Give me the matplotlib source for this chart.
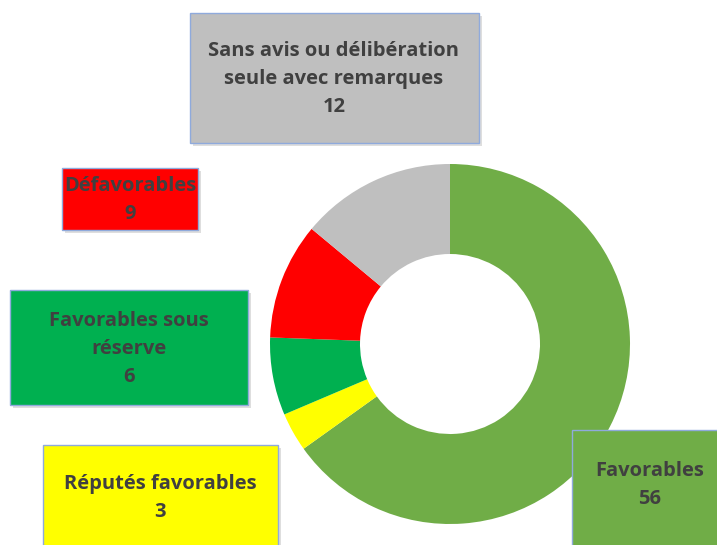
import matplotlib.pyplot as plt
from matplotlib.patches import Rectangle

labels = ["Favorables", "Réputés favorables", "Favorables sous\nréserve", "Défavorables",
          "Sans avis ou délibération\nseule avec remarques"]
values = [56, 3, 6, 9, 12]
colors = ["#70AD47", "#FFFF00", "#00B050", "#FF0000", "#BFBFBF"]

# label boxes (x0, y0, x1, y1) in pixels, top-left origin
boxes = [(572, 430, 730, 560), (43, 445, 278, 560), (10, 290, 248, 405),
         (62, 168, 198, 230), (190, 13, 479, 143)]
text_x = [650, 160, 129, 130, 334]
text_y = [485, 498, 349, 200, 79]

plt.rcParams['font.family'] = ['Open Sans', 'DejaVu Sans']

fig = plt.figure(figsize=(7.17, 5.45), dpi=100)
ax = fig.add_axes([0, 0, 1, 1])

# y axis is inverted below, so counterclock=True draws clockwise on screen
ax.pie(values, colors=colors, startangle=-90, counterclock=True, radius=180,
       center=(450, 344), wedgeprops=dict(width=90, linewidth=0),
       frame=True)
ax.set_xlim(0, 717)
ax.set_ylim(545, 0)
ax.set_aspect('equal')
ax.axis('off')

for lab, val, col, (x0, y0, x1, y1), tx, ty in zip(labels, values, colors, boxes, text_x, text_y):
    ax.add_patch(Rectangle((x0 + 3, y0 + 3), x1 - x0, y1 - y0, facecolor='#c8c8c8',
                           edgecolor='none', alpha=0.6, zorder=3))
    ax.add_patch(Rectangle((x0, y0), x1 - x0, y1 - y0, facecolor=col,
                           edgecolor='#8FAADC', linewidth=1, zorder=4))
    ax.text(tx, ty, f"{lab}\n{val}",
            ha='center', va='center', fontsize=14.5, fontweight='bold',
            color='#404040', linespacing=1.55, zorder=5)

fig.savefig("out.png", dpi=100)
